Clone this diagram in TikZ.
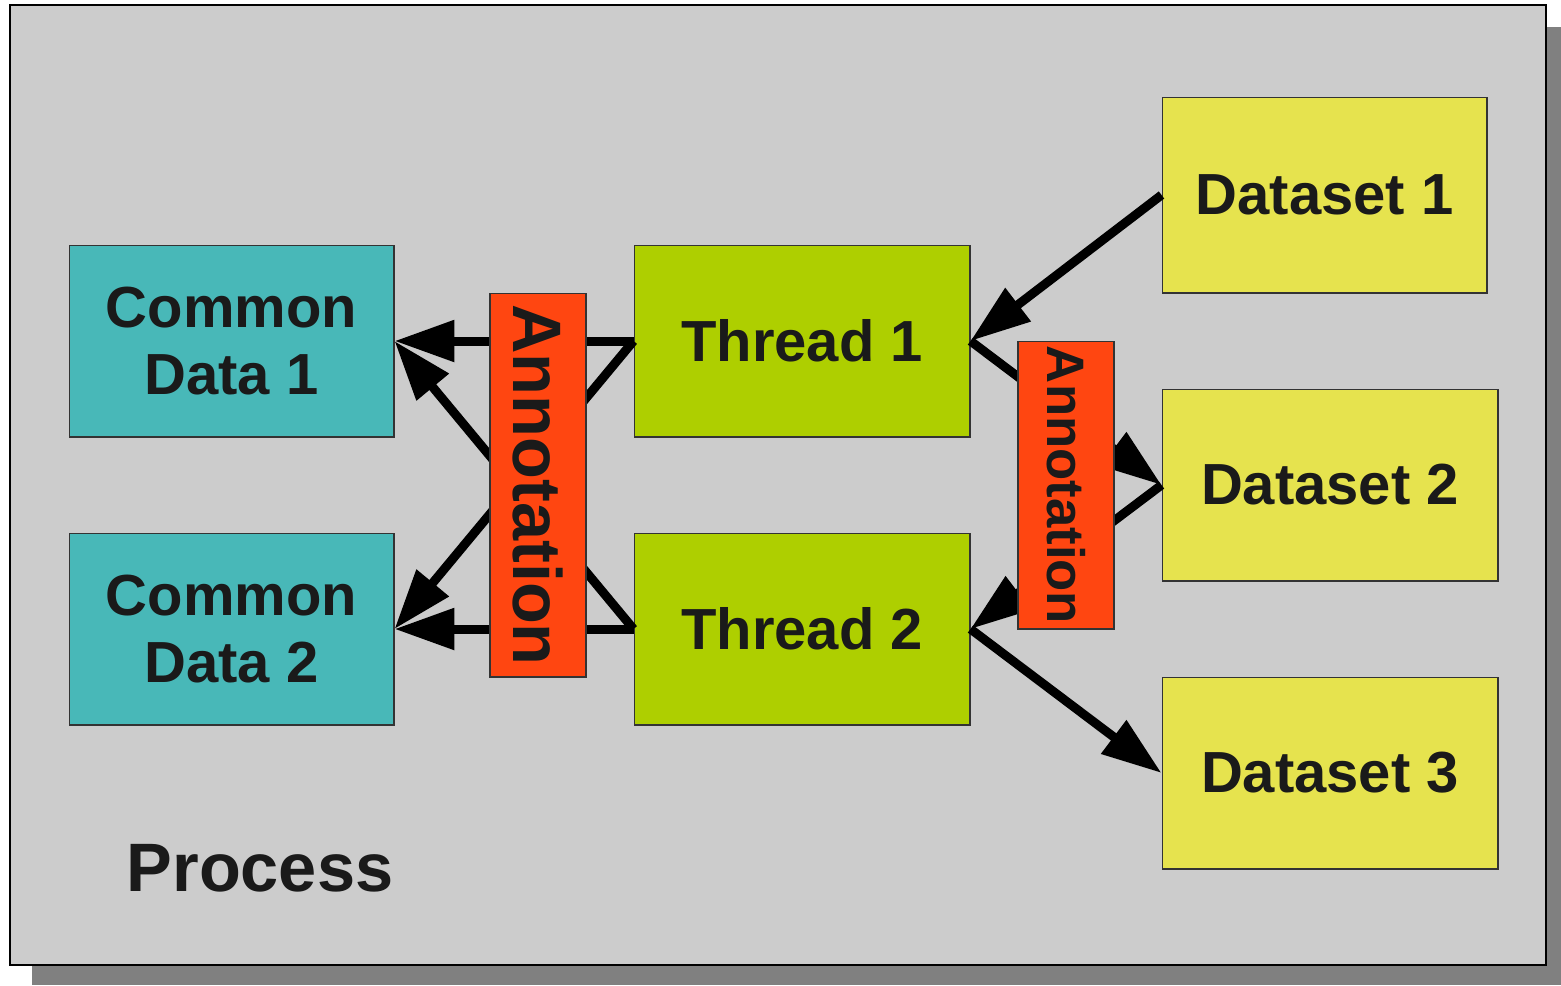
\documentclass[tikz,border=0pt]{standalone}
\usepackage{fontspec}
\setmainfont{Liberation Sans}
\usetikzlibrary{arrows.meta}

\definecolor{procgray}{HTML}{CCCCCC}
\definecolor{shadowgray}{HTML}{808080}
\definecolor{commonteal}{HTML}{48B8B8}
\definecolor{threadlime}{HTML}{AECF00}
\definecolor{datayellow}{HTML}{E6E34E}
\definecolor{annotred}{HTML}{FF4611}
\definecolor{textdark}{HTML}{1A1A1A}

\begin{document}
\begin{tikzpicture}[
    x=0.02cm, y=-0.02cm,
    box/.style={draw=black!80, line width=0.6pt, text=textdark, font=\bfseries\fontsize{33}{38}\selectfont, align=center, inner sep=0pt},
    common/.style={box, fill=commonteal, minimum width=6.5cm, minimum height=3.84cm},
    thread/.style={box, fill=threadlime, minimum width=6.72cm, minimum height=3.84cm},
    dataset/.style={box, fill=datayellow, minimum width=6.72cm, minimum height=3.84cm},
    annot/.style={box, fill=annotred, rotate=-90, minimum height=1.92cm},
    arrow/.style={line width=0.18cm, -{Triangle[length=1.2cm, width=0.8cm]}}
]

\useasboundingbox (0,0) rectangle (1561,985);

% Processo con ombra
\fill[shadowgray] (32,27) rectangle (1561,985);
\draw[fill=procgray, line width=0.8pt] (10,5) rectangle (1546,965);

% Dati comuni
\node[common] (cd1) at (231.5,341) {Common\\Data 1};
\node[common] (cd2) at (231.5,629) {Common\\Data 2};

% Thread
\node[thread] (th1) at (802,341) {Thread 1};
\node[thread] (th2) at (802,629) {Thread 2};

% Dataset
\node[dataset, minimum width=6.5cm, minimum height=3.92cm] (ds1) at (1324.5,195) {Dataset 1};
\node[dataset] (ds2) at (1330,485) {Dataset 2};
\node[dataset] (ds3) at (1330,773) {Dataset 3};

% Frecce verso i dati comuni
\draw[arrow] (th1.west) -- (cd1.east);
\draw[arrow] (th1.west) -- (cd2.east);
\draw[arrow] (th2.west) -- (cd1.east);
\draw[arrow] (th2.west) -- (cd2.east);

% Frecce tra thread e dataset
\draw[arrow] (ds1.west) -- (th1.east);
\draw[arrow] (th1.east) -- (ds2.west);
\draw[arrow] (ds2.west) -- (th2.east);
\draw[arrow] (th2.east) -- (ds3.west);

% Annotazioni sopra le frecce
\node[annot, minimum width=7.68cm, font=\bfseries\fontsize{39}{44}\selectfont] (an1) at (538,485) {Annotation};
\node[annot, minimum width=5.76cm, font=\bfseries\fontsize{30}{34}\selectfont] (an2) at (1066,485) {Annotation};

% Etichetta
\node[text=textdark, font=\bfseries\fontsize{39}{44}\selectfont] (proc) at (260,868) {Process};

\end{tikzpicture}
\end{document}
